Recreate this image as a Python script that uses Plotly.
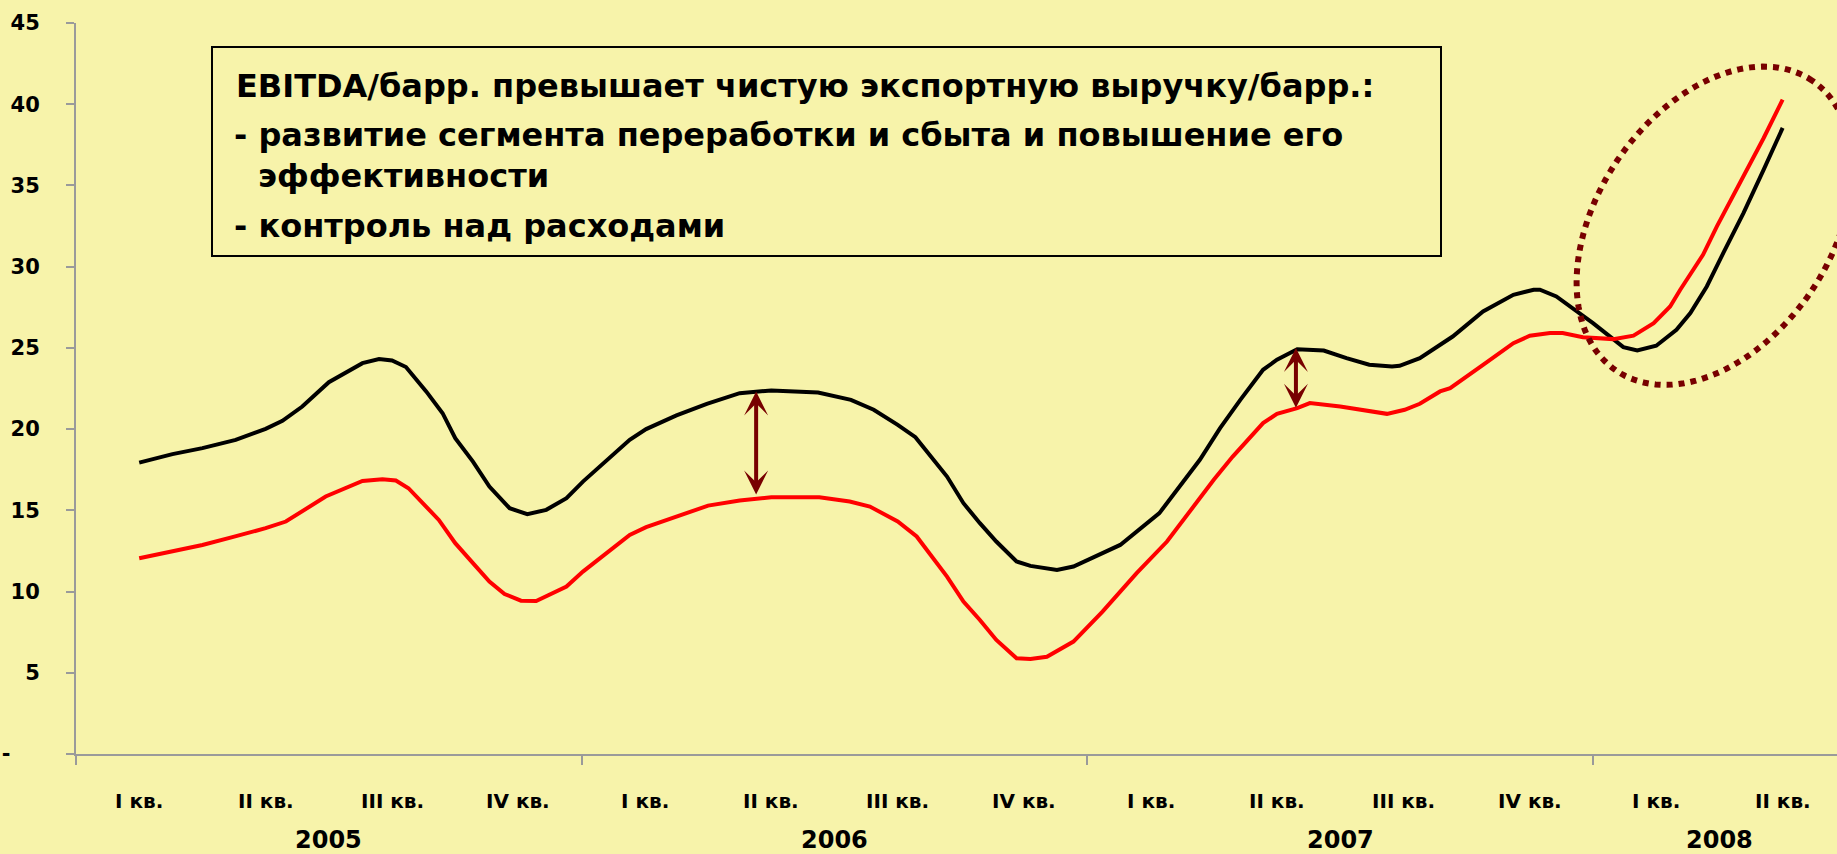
import numpy as np
import plotly.graph_objects as go

# ---------------- data ----------------
quarters = ["I кв.", "II кв.", "III кв.", "IV кв."]
quarter_labels = quarters * 3 + quarters[:2]
years = ["2005", "2006", "2007", "2008"]
year_centers = [1.5, 5.5, 9.5, 12.5]
year_dividers = [-0.5, 3.5, 7.5, 11.5]

# EBITDA / барр. (black)
black_x = [0, 0.263, 0.5, 0.763, 1.0, 1.133, 1.29, 1.5, 1.766, 1.897, 2.0, 2.11, 2.27, 2.40,
           2.5, 2.64, 2.77, 2.93, 3.07, 3.22, 3.38, 3.51, 3.88, 4.01, 4.25, 4.49, 4.75, 5.0,
           5.37, 5.63, 5.81, 6.0, 6.14, 6.39, 6.52, 6.65, 6.78, 6.94, 7.05, 7.26, 7.39, 7.6,
           7.76, 8.07, 8.23, 8.39, 8.55, 8.71, 8.89, 9.0, 9.16, 9.37, 9.55, 9.73, 9.91, 9.97,
           10.13, 10.29, 10.39, 10.63, 10.87, 11.03, 11.08, 11.21, 11.5, 11.74, 11.85, 12.0,
           12.16, 12.27, 12.4, 12.53, 12.69, 12.85, 13.0]
black_y = [17.94, 18.46, 18.83, 19.34, 20.02, 20.51, 21.39, 22.89, 24.06, 24.31, 24.22, 23.82,
           22.32, 20.98, 19.44, 18.0, 16.46, 15.13, 14.76, 15.03, 15.75, 16.77, 19.34, 20.0,
           20.84, 21.56, 22.21, 22.38, 22.25, 21.8, 21.19, 20.26, 19.5, 17.08, 15.44, 14.21,
           13.08, 11.85, 11.58, 11.33, 11.54, 12.26, 12.87, 14.83, 16.46, 18.11, 20.06, 21.8,
           23.65, 24.27, 24.92, 24.84, 24.37, 23.96, 23.86, 23.9, 24.37, 25.2, 25.7, 27.24,
           28.27, 28.58, 28.58, 28.17, 26.52, 25.05, 24.84, 25.13, 26.11, 27.14, 28.78, 30.83,
           33.3, 35.97, 38.54]

# Чистая экспортная выручка / барр. (red)
red_x = [0, 0.263, 0.5, 0.737, 1.0, 1.16, 1.475, 1.766, 1.924, 2.03, 2.13, 2.37, 2.5, 2.64,
         2.77, 2.89, 3.02, 3.14, 3.38, 3.51, 3.88, 4.01, 4.25, 4.5, 4.75, 5.0, 5.38, 5.62,
         5.78, 6.0, 6.15, 6.39, 6.52, 6.65, 6.78, 6.94, 7.05, 7.18, 7.39, 7.62, 7.89, 8.13,
         8.5, 8.65, 8.89, 9.0, 9.16, 9.26, 9.5, 9.66, 9.87, 10.01, 10.13, 10.29, 10.37, 10.63,
         10.87, 11.0, 11.16, 11.26, 11.42, 11.66, 11.82, 11.98, 12.11, 12.19, 12.37, 12.48,
         12.69, 12.85, 13.0]
red_y = [12.05, 12.46, 12.87, 13.35, 13.9, 14.31, 15.85, 16.81, 16.92, 16.84, 16.36, 14.41,
         12.98, 11.75, 10.61, 9.85, 9.44, 9.42, 10.31, 11.23, 13.49, 13.96, 14.62, 15.29, 15.6,
         15.81, 15.81, 15.54, 15.23, 14.31, 13.39, 10.92, 9.38, 8.25, 7.02, 5.89, 5.85, 5.99,
         6.92, 8.76, 11.13, 13.08, 16.88, 18.31, 20.37, 20.94, 21.29, 21.6, 21.39, 21.19,
         20.94, 21.19, 21.56, 22.32, 22.52, 23.96, 25.29, 25.75, 25.91, 25.91, 25.66, 25.54,
         25.75, 26.52, 27.55, 28.58, 30.73, 32.48, 35.56, 37.92, 40.28]

y_tickvals = [0, 5, 10, 15, 20, 25, 30, 35, 40, 45]
y_ticktext = ["-&nbsp;&nbsp;&nbsp;&nbsp;", "5", "10", "15", "20", "25", "30", "35", "40", "45"]

# gap arrows: (x, top, bottom)
gap_arrows = [(4.88, 22.32, 15.89), (9.15, 24.99, 21.23)]

box_lines = [
    "EBITDA/барр. превышает чистую экспортную выручку/барр.:",
    "- развитие сегмента переработки и сбыта и повышение его",
    "эффективности",
    "- контроль над расходами",
]

# ---------------- layout constants ----------------
W, H = 1837, 854
ML, MR, MT, MB = 76, 0, 23, 100
PW, PH = W - ML - MR, H - MT - MB
X_RANGE = [-0.5, 13.43]
Y_RANGE = [0, 45]
px_per_x = PW / (X_RANGE[1] - X_RANGE[0])
px_per_y = PH / (Y_RANGE[1] - Y_RANGE[0])


def paper_x(px):
    return (px - ML) / PW


def paper_y(py):
    return (H - MB - py) / PH


BG = "#F7F3AA"
AXIS = "#9A9A9A"
MAROON = "#780000"
FONT = "DejaVu Sans"

fig = go.Figure()
fig.add_trace(go.Scatter(x=black_x, y=black_y, mode="lines",
                         line=dict(color="#000000", width=4), hoverinfo="skip"))
fig.add_trace(go.Scatter(x=red_x, y=red_y, mode="lines",
                         line=dict(color="#FF0000", width=4), hoverinfo="skip"))

annotations = []
# quarter labels
for i, q in enumerate(quarter_labels):
    annotations.append(dict(x=i, y=paper_y(801), xref="x", yref="paper", text=q,
                            showarrow=False, xanchor="center", yanchor="middle",
                            font=dict(family=FONT, size=20, color="#000", weight="bold")))
# year labels
for yr, xc in zip(years, year_centers):
    annotations.append(dict(x=xc, y=paper_y(840), xref="x", yref="paper", text=yr,
                            showarrow=False, xanchor="center", yanchor="middle",
                            font=dict(family=FONT, size=24, color="#000", weight="bold")))
# gap arrows
for ax_, top, bot in gap_arrows:
    annotations.append(dict(x=ax_, y=top, ax=ax_, ay=bot, xref="x", yref="y",
                            axref="x", ayref="y", text="", showarrow=True,
                            arrowhead=3, startarrowhead=3, arrowside="end+start",
                            arrowwidth=4, arrowsize=1.0, startarrowsize=1.0,
                            arrowcolor=MAROON, standoff=0, startstandoff=0))
# text box lines
box_pos = [(234, 85.5), (232, 134.7), (256, 175.7), (232, 226)]
for txt, (px, py) in zip(box_lines, box_pos):
    annotations.append(dict(x=paper_x(px), y=paper_y(py), xref="paper", yref="paper",
                            text=txt, showarrow=False, xanchor="left", yanchor="middle",
                            font=dict(family=FONT, size=32, color="#000", weight="bold")))

shapes = []
# text box frame
shapes.append(dict(type="rect", xref="paper", yref="paper",
                   x0=paper_x(212), x1=paper_x(1441), y0=paper_y(256), y1=paper_y(47),
                   line=dict(color="#000", width=2), fillcolor="rgba(0,0,0,0)"))
# dotted tilted ellipse around 2008 (centre in data units, semi-axes in pixels)
cx, cy = 12.46, 32.52
a_px, b_px, th = 175, 117, np.deg2rad(56)
t = np.linspace(0, 2 * np.pi, 145)
ex = cx + (a_px * np.cos(t) * np.cos(th) - b_px * np.sin(t) * np.sin(th)) / px_per_x
ey = cy + (a_px * np.cos(t) * np.sin(th) + b_px * np.sin(t) * np.cos(th)) / px_per_y
path = "M " + " L ".join(f"{x:.4f},{y:.4f}" for x, y in zip(ex, ey)) + " Z"
shapes.append(dict(type="path", xref="x", yref="y", path=path,
                   line=dict(color=MAROON, width=6, dash="dot")))

fig.update_layout(
    width=W, height=H,
    margin=dict(l=ML, r=MR, t=MT, b=MB, pad=0),
    paper_bgcolor=BG, plot_bgcolor=BG,
    showlegend=False,
    annotations=annotations,
    shapes=shapes,
    xaxis=dict(range=X_RANGE, showgrid=False, zeroline=False, showline=True,
               linecolor=AXIS, linewidth=2, tickmode="array", tickvals=year_dividers,
               ticks="outside", ticklen=9, tickcolor=AXIS, tickwidth=2,
               showticklabels=False),
    yaxis=dict(range=Y_RANGE, showgrid=False, zeroline=False, showline=True,
               linecolor=AXIS, linewidth=2, tickmode="array", tickvals=y_tickvals,
               ticktext=y_ticktext, ticks="outside", ticklen=8, tickcolor=AXIS,
               tickwidth=2, ticklabelstandoff=22,
               tickfont=dict(family=FONT, size=21, color="#000", weight="bold")),
)

fig.write_html(
    "out.html",
    config={"displayModeBar": False},
    post_script=(
        "document.documentElement.style.margin='0';"
        "document.body.style.margin='0';"
        "document.body.style.overflow='hidden';"
        "document.body.style.background='" + BG + "';"
    ),
)
